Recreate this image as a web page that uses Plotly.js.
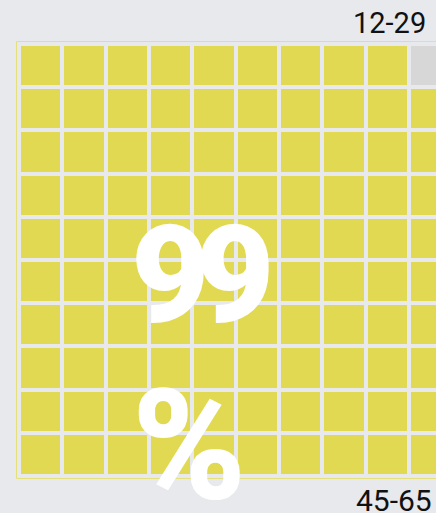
<!DOCTYPE html>
<html>
<head>
<meta charset="utf-8">
<script src="https://cdn.plot.ly/plotly-3.0.1.min.js"></script>
<style>
html,body{margin:0;padding:0;background:#e7e9ed;}
#chart{width:436px;height:513px;}
.annotation[data-index="2"] text{letter-spacing:-14px;}
</style>
</head>
<body>
<div id="chart"></div>
<script>
// Data
const percentValue = 99;          // share shown by the waffle
const totalCells = 100;           // 10 x 10 grid
const gridColumns = 10;
const gridRows = 10;
const ageLabels = ["12-29", "45-65"];
const bigLabelParts = ["99", "%"];

// colours
const filledColor = "#e2d952";
const emptyColor = "#d7d7d7";
const bgColor = "#e7e9ed";

// build the grid: cells counted from bottom-left, row by row
const z = [];
for (let r = 0; r < gridRows; r++) {
  const row = [];
  for (let c = 0; c < gridColumns; c++) {
    const k = (gridRows - 1 - r) * gridColumns + c;
    row.push(k < percentValue ? 1 : 0);
  }
  z.push(row);
}
const xs = Array.from({length: gridColumns}, (_, i) => i);
const ys = Array.from({length: gridRows}, (_, i) => i);

const W = 436, H = 513;
const mL = 19, mR = 0, mT = 44, mB = 37;
const plotW = W - mL - mR, plotH = H - mT - mB;
const pitchX = 43.33;
const px = v => (v - mL) / plotW;
const py = v => (H - mB - v) / plotH;

const trace = {
  type: "heatmap",
  x: xs, y: ys, z: z,
  xgap: 4, ygap: 4,
  zmin: 0, zmax: 1,
  colorscale: [[0, emptyColor], [0.5, emptyColor], [0.5, filledColor], [1, filledColor]],
  showscale: false,
  hoverinfo: "skip"
};

const layout = {
  width: W, height: H,
  margin: {l: mL, r: mR, t: mT, b: mB, pad: 0},
  paper_bgcolor: bgColor,
  plot_bgcolor: bgColor,
  showlegend: false,
  xaxis: {range: [-0.5, -0.5 + plotW / pitchX], visible: false, fixedrange: true},
  yaxis: {range: [gridRows - 0.5, -0.5], visible: false, fixedrange: true},
  shapes: [
    {type: "rect", xref: "paper", yref: "paper",
     x0: px(16.5), x1: px(445), y0: py(478.5), y1: py(41.5),
     line: {color: "#e6e07a", width: 1}, fillcolor: "rgba(0,0,0,0)", layer: "below"},
    {type: "line", xref: "paper", yref: "paper",
     x0: px(410), x1: px(445), y0: py(41.5), y1: py(41.5),
     line: {color: "#d9d9d9", width: 1}}
  ],
  annotations: [
    {text: ageLabels[0], xref: "paper", yref: "paper", x: px(428), y: py(22.8),
     xanchor: "right", yanchor: "middle", showarrow: false,
     font: {family: "Roboto, sans-serif", size: 29, color: "#111111"}},
    {text: ageLabels[1], xref: "paper", yref: "paper", x: px(434), y: py(500.8),
     xanchor: "right", yanchor: "middle", showarrow: false,
     font: {family: "Roboto, sans-serif", size: 30, color: "#111111"}},
    {text: bigLabelParts[0], xref: "paper", yref: "paper", x: px(115), y: py(275),
     xanchor: "left", yanchor: "middle", showarrow: false,
     font: {family: "Roboto, sans-serif", size: 136, color: "#ffffff", weight: 900}},
    {text: bigLabelParts[1], xref: "paper", yref: "paper", x: px(189), y: py(446.5),
     xanchor: "center", yanchor: "middle", showarrow: false,
     font: {family: "Roboto, sans-serif", size: 154, color: "#ffffff", weight: 900}}
  ]
};

Plotly.newPlot("chart", [trace], layout, {displayModeBar: false, staticPlot: true});
</script>
</body>
</html>
